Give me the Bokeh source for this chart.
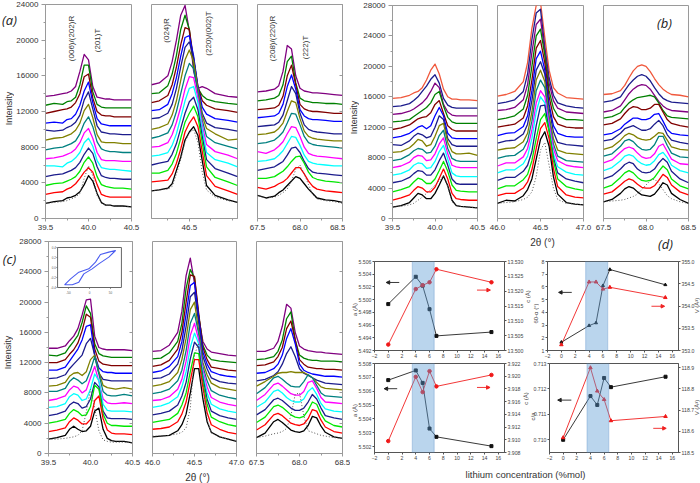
from bokeh.plotting import figure
from bokeh.embed import file_html
from bokeh.resources import INLINE
from bokeh.layouts import Row, Column
from bokeh.models import (Range1d, FixedTicker, LinearAxis, Label, BoxAnnotation, Arrow, NormalHead,
                          PrintfTickFormatter)
from bokeh.core.properties import value

# all spectrum intensities are written in hundreds of counts
UNIT = 100
COLORS_13 = ["#000000", "#ff0000", "#00e800", "#1c1c8c", "#00ffff", "#ff00ff", "#008080", "#808000",
             "#1c1c8c", "#0000ff", "#800000", "#008000", "#800080"]
COLORS_15 = COLORS_13 + ["#1c1c8c", "#f0583c"]

A1_X = [39.5, 39.6, 39.7, 39.75, 39.8, 39.85, 39.9, 39.95, 40.0, 40.05, 40.1, 40.15, 40.2, 40.25, 40.3, 40.4, 40.5]
A1 = [
 [17,19,20,23,24,26,30,38,48,42,28,18,15,15,14,14,13],
 [27,29,30,33,35,39,45,52,57,52,38,27,25,24,24,24,24],
 [37,39,40,42,44,47,53,63,69,62,47,38,36,35,34,34,33],
 [47,49,50,52,54,57,63,72,79,73,58,48,46,45,45,44,44],
 [59,59,58,62,64,68,74,85,90,81,65,57,56,55,55,54,53],
 [67,68,70,72,74,78,85,96,101,90,74,66,65,65,65,64,64],
 [77,79,80,82,84,87,95,107,114,103,86,78,76,75,75,74,74],
 [88,90,91,93,95,99,107,121,128,113,94,86,85,85,85,84,84],
 [99,98,99,102,104,108,116,133,142,123,104,97,96,95,95,94,94],
 [107,108,107,111,112,117,127,143,153,130,112,106,105,104,104,104,104],
 [118,120,122,123,125,130,140,159,162,135,120,116,115,115,114,114,114],
 [127,129,128,131,132,136,150,172,172,142,128,125,124,124,124,124,124],
 [137,138,140,141,143,148,165,184,178,148,136,135,134,134,133,133,133],
]
A1_DOT = [17,18,19,20,22,24,28,45,59,48,26,17,15,15,14,14,13]

A2_X = [46.06, 46.15, 46.25, 46.3, 46.35, 46.4, 46.45, 46.5, 46.55, 46.6, 46.65, 46.7, 46.8, 46.95, 47.06]
A2 = [
 [31,32,34,39,54,69,88,97,103,93,65,37,26,21,18],
 [41,42,43,50,62,78,97,107,114,103,75,48,36,31,27],
 [51,51,54,61,73,90,108,118,126,114,85,58,46,41,37],
 [60,62,64,72,84,101,118,131,136,122,92,66,56,51,47],
 [70,71,74,82,95,113,132,146,148,130,100,74,66,62,58],
 [80,81,85,94,108,125,145,159,158,135,105,83,75,71,67],
 [90,92,96,105,120,140,160,174,168,140,110,92,85,81,78],
 [100,102,106,116,132,155,178,189,176,145,115,101,95,88,89],
 [112,113,118,128,146,170,192,198,180,145,118,107,102,100,98],
 [121,122,128,140,158,182,203,205,182,148,125,117,112,110,108],
 [130,132,138,150,170,195,214,212,178,148,132,127,123,121,119],
 [140,141,149,162,183,212,228,212,172,146,138,134,131,129,128],
 [150,152,160,176,200,228,239,210,165,146,148,146,140,137,136],
]
A2_DOT = [31,32,33,36,50,66,86,96,100,85,52,32,24,20,18]

A3_X = [67.5, 67.6, 67.7, 67.75, 67.8, 67.85, 67.9, 67.95, 68.0, 68.05, 68.1, 68.15, 68.2, 68.3, 68.4, 68.5]
A3 = [
 [26,23,25,29,32,37,42,47,45,39,33,28,23,21,20,18],
 [35,33,36,39,41,45,51,57,57,50,42,36,33,31,30,29],
 [45,45,47,50,53,58,64,69,70,62,52,46,44,42,41,40],
 [54,56,58,61,64,71,79,80,74,64,56,52,51,50,49,48],
 [64,65,67,71,76,84,92,91,82,71,64,62,61,60,59,59],
 [75,73,77,81,86,95,103,102,92,80,73,71,70,69,68,67],
 [84,85,88,92,97,107,118,117,105,92,85,83,82,81,80,79],
 [94,95,97,101,107,120,132,130,112,98,92,90,89,88,87,87],
 [103,104,105,108,116,132,148,140,118,105,100,98,97,96,95,95],
 [113,114,115,118,128,148,161,145,122,115,112,111,111,110,109,109],
 [122,123,124,127,137,160,172,150,128,123,121,120,120,119,118,118],
 [132,133,135,138,150,176,182,152,135,132,131,130,130,129,129,128],
 [142,143,145,149,165,194,190,160,146,143,142,141,141,140,139,138],
]
A3_DOT = [26,23,24,26,29,33,42,55,60,50,38,27,22,20,19,17]

B1_X = [39.5, 39.6, 39.7, 39.75, 39.8, 39.85, 39.9, 39.95, 40.0, 40.05, 40.1, 40.15, 40.2, 40.25, 40.3, 40.4, 40.5]
B1 = [
 [15,17,21,27,33,31,26,26,33,44,56,43,24,17,16,15,14],
 [24,27,31,37,42,40,35,35,41,53,65,52,33,26,25,24,24],
 [35,38,42,48,53,51,46,46,52,63,75,62,44,37,36,35,35],
 [47,49,54,59,63,62,57,57,64,76,86,70,52,46,45,45,45],
 [57,59,64,70,73,72,66,67,75,88,96,78,60,56,55,55,55],
 [67,69,74,80,83,82,76,77,85,98,106,85,70,68,67,67,67],
 [76,78,84,89,92,91,86,87,95,109,116,92,79,76,75,75,75],
 [87,88,93,98,104,102,95,97,108,122,125,100,88,85,85,86,83],
 [97,96,102,108,112,110,106,108,120,135,130,105,97,95,95,95,95],
 [106,108,112,116,120,122,118,122,135,146,135,112,106,105,105,105,105],
 [117,119,123,127,131,133,134,139,150,155,138,122,117,115,115,115,115],
 [127,128,130,134,138,142,146,152,163,167,148,133,127,125,125,125,125],
 [137,138,141,144,148,152,158,167,178,172,150,140,136,135,135,135,135],
 [147,148,151,155,160,167,174,183,189,178,158,149,146,145,145,145,145],
 [158,159,162,165,167,172,182,195,203,190,170,160,157,157,156,156,155],
]
B1_DOT = [15,16,18,20,24,28,33,38,44,50,56,42,22,17,16,15,14]

B2_X = [46.0, 46.1, 46.2, 46.3, 46.35, 46.4, 46.45, 46.5, 46.55, 46.6, 46.65, 46.7, 46.8, 46.9, 47.0]
B2 = [
 [20,24,23,30,38,52,78,104,114,95,55,32,21,19,18],
 [30,33,33,40,48,64,92,118,126,105,66,42,31,28,27],
 [39,43,43,51,58,76,105,130,138,115,76,52,42,39,37],
 [50,54,54,62,70,88,122,148,149,115,80,60,52,49,47],
 [60,64,64,72,82,105,140,160,152,118,85,68,61,58,57],
 [69,73,73,81,92,116,152,168,160,125,92,76,70,68,67],
 [79,82,83,91,102,128,168,182,172,130,98,82,76,75,74],
 [90,92,93,101,112,140,182,195,180,135,105,90,86,85,84],
 [99,102,103,111,124,155,195,206,190,145,114,100,97,96,95],
 [109,112,113,121,135,168,210,220,195,150,122,112,108,107,107],
 [120,122,124,132,148,182,224,234,205,160,134,124,120,119,119],
 [130,132,135,144,162,200,240,249,215,168,145,135,130,130,129],
 [142,143,146,156,176,218,255,262,220,178,155,145,140,139,138],
 [151,153,156,167,190,235,270,275,225,185,162,152,148,146,145],
 [161,163,167,180,205,250,280,284,238,195,172,165,159,158,157],
]
B2_DOT = [20,21,22,25,28,35,55,90,100,70,40,25,20,19,18]

B3_X = [67.5, 67.6, 67.7, 67.75, 67.8, 67.85, 67.9, 67.95, 68.0, 68.05, 68.1, 68.15, 68.2, 68.25, 68.3, 68.4, 68.5]
B3 = [
 [22,25,33,39,42,40,35,31,30,29,32,39,47,44,33,25,20],
 [32,35,44,49,52,50,45,41,40,40,43,50,58,54,44,35,31],
 [40,44,54,60,63,60,54,50,49,50,54,62,69,64,52,43,39],
 [52,56,65,71,74,72,65,61,60,61,65,73,79,74,62,52,47],
 [63,67,76,82,84,82,76,72,70,71,76,84,87,80,70,63,60],
 [73,77,87,92,94,92,86,81,79,80,85,95,98,88,78,72,71],
 [82,85,95,102,104,101,95,91,90,91,97,108,108,96,86,81,80],
 [91,94,103,109,112,110,106,104,103,104,108,113,112,103,94,91,90],
 [102,104,112,118,120,122,119,116,116,118,124,129,122,110,103,100,98],
 [110,112,118,124,128,132,132,130,130,132,137,138,128,117,112,110,109],
 [123,125,131,138,144,147,146,143,143,145,150,150,140,130,125,122,120],
 [132,134,139,146,152,156,159,160,161,162,160,152,142,135,133,132,131],
 [140,142,148,156,164,170,174,176,175,170,162,154,148,144,142,141,140],
 [153,155,160,168,176,182,187,189,187,181,172,164,158,155,153,152,151],
 [163,164,168,175,185,194,200,202,200,193,184,176,170,166,163,162,160],
]
B3_DOT = [22,23,24,25,27,29,32,38,44,50,52,46,38,30,26,22,20]

C1_X = [39.5, 39.6, 39.7, 39.75, 39.8, 39.85, 39.9, 39.95, 40.0, 40.05, 40.1, 40.15, 40.2, 40.25, 40.3, 40.4, 40.5]
C1 = [
 [19,21,24,32,36,32,29,30,36,56,60,32,20,17,16,16,14],
 [29,31,34,42,47,44,39,39,45,70,76,46,31,27,26,26,25],
 [40,42,45,53,58,55,50,51,62,90,85,52,40,37,37,36,36],
 [50,52,56,64,68,66,60,62,72,94,88,56,47,46,46,46,45],
 [61,62,66,75,79,77,70,72,85,105,96,65,57,56,56,56,55],
 [70,72,76,84,89,87,80,84,100,115,95,72,67,66,66,67,66],
 [82,82,86,95,100,97,92,96,110,128,105,82,77,76,76,78,76],
 [89,90,94,102,106,107,103,108,124,130,108,90,87,86,85,87,85],
 [99,100,104,112,118,124,130,145,152,130,106,98,97,96,96,96,96],
 [110,110,114,122,130,138,150,168,170,130,113,108,107,107,106,106,106],
 [120,120,124,131,137,146,162,184,180,138,122,118,117,116,116,116,116],
 [130,129,133,141,148,156,173,195,185,145,132,129,128,127,127,127,127],
 [139,139,142,149,155,165,183,203,204,155,140,138,137,137,137,137,136],
]
C1_DOT = [19,19,20,21,22,24,30,55,85,60,30,18,16,15,15,15,14]

C2_X = [46.0, 46.1, 46.2, 46.3, 46.35, 46.4, 46.45, 46.5, 46.55, 46.6, 46.65, 46.7, 46.8, 46.9, 47.0]
C2 = [
 [22,23,24,30,38,52,80,112,112,72,42,28,22,19,16],
 [32,33,35,42,52,68,96,124,124,88,54,38,32,28,26],
 [41,43,45,53,64,80,108,133,132,95,65,48,42,38,36],
 [51,53,56,64,76,94,125,147,140,100,72,56,50,47,45],
 [61,63,67,75,88,108,140,159,145,105,80,65,59,56,54],
 [70,71,75,85,98,122,156,172,150,110,88,74,68,65,63],
 [79,81,85,96,110,136,172,185,158,115,96,83,77,74,72],
 [89,91,95,107,124,152,190,200,162,120,104,93,87,85,83],
 [99,100,105,118,136,168,207,213,172,128,112,100,95,93,92],
 [107,109,115,128,148,184,222,226,180,134,118,108,104,102,101],
 [115,117,123,138,160,200,236,234,185,140,124,114,112,110,109],
 [125,126,133,148,172,218,243,232,182,143,130,124,122,121,120],
 [135,136,143,160,188,235,258,225,180,148,138,134,132,130,129],
]
C2_DOT = [23,23,24,26,28,34,60,130,146,90,45,27,22,19,17]

C3_X = [67.5, 67.6, 67.7, 67.75, 67.8, 67.85, 67.9, 67.95, 68.0, 68.05, 68.1, 68.15, 68.2, 68.25, 68.3, 68.4, 68.5]
C3 = [
 [21,27,42,45,41,36,31,29,28,30,37,49,47,36,28,22,20],
 [31,38,51,53,50,45,40,38,37,39,46,58,56,44,35,29,27],
 [41,48,62,64,61,56,51,48,47,49,57,68,65,52,43,37,35],
 [51,58,71,73,70,65,60,57,57,60,68,78,72,60,50,47,45],
 [61,68,82,84,80,74,70,68,68,72,82,87,78,66,59,56,55],
 [70,78,91,93,89,84,79,77,77,82,94,96,86,74,68,67,66],
 [79,87,100,102,98,93,89,88,88,95,104,100,90,80,76,75,74],
 [89,95,102,106,107,107,108,107,107,107,104,100,94,88,86,85,84],
 [96,98,103,108,118,132,141,128,112,106,103,100,97,95,93,92,91],
 [106,107,112,118,130,152,165,145,118,110,107,105,104,103,102,102,101],
 [116,117,121,128,140,165,175,150,124,118,114,113,112,112,111,111,110],
 [124,125,128,135,150,178,187,150,130,126,124,123,123,122,122,122,121],
 [135,135,139,148,168,197,192,160,142,138,136,135,134,134,133,132,131],
]
C3_DOT = [21,23,26,27,29,33,50,78,80,50,30,28,26,24,23,21,20]

# hysteresis loop of the inset
LOOP_X = [-59.5,-45,-25.4,-1.6,14.3,26,46,62,46,22,6.3,-13.5,-25.4,-41,-59.5]
LOOP_Y = [-.346,-.227,-.093,-.027,.107,.26,.307,.34,.207,.073,-.027,-.127,-.293,-.346,-.346]

# lattice parameters against lithium concentration
LI = [0, 4, 5, 6, 7, 15]
D1_A = [5.4993, 5.5036, 5.5022, 5.4985, 5.4943, 5.4949]
D1_C = [13.502, 13.5207, 13.522, 13.523, 13.5274, 13.523]
D2_D = [1.65, 2.96, 3.17, 6.1, 7.37, 6.17]
D2_V = [353.13, 354.54, 354.54, 354.38, 354.42, 354.19]
D3_A = [5.5068, 5.5075, 5.5066, 5.5033, 5.5027, 5.50203]
D3_C = [3.9098, 3.9199, 3.9175, 3.9208, 3.9184, 3.9202]
D4_R = [0.7100, 0.71172, 0.71137, 0.71243, 0.71207, 0.71248]
D4_V = [118.57, 118.9, 118.79, 118.75, 118.65, 118.67]

FONT = "Liberation Sans"
GRAY = "#9a9a9a"
TXT = "#333333"
TOTAL = 483


def spectrum(w, h, left, right, top, bottom, xr, ymax, xticks, xminor, curves, xs, colors, dots, yticks=False,
             inner=False):
    p = figure(width=w, height=h, x_range=Range1d(*xr), y_range=Range1d(0, ymax), toolbar_location=None,
               output_backend="svg", min_border_left=left, min_border_right=right, min_border_top=top,
               min_border_bottom=bottom)
    p.grid.visible = False
    p.outline_line_color = GRAY
    p.background_fill_color = "white"
    ax = p.xaxis[0]
    ax.ticker = FixedTicker(ticks=xticks, minor_ticks=xminor)
    ax.formatter = PrintfTickFormatter(format="%.1f")
    ax.major_label_text_font = FONT
    ax.major_label_text_font_size = "8px"
    ax.major_label_text_color = TXT
    ax.major_label_standoff = 3
    ax.axis_line_color = GRAY
    ax.major_tick_line_color = GRAY
    ax.minor_tick_line_color = GRAY
    ax.major_tick_in = 0
    ax.major_tick_out = 3
    ax.minor_tick_in = 0
    ax.minor_tick_out = 2
    ay = p.yaxis[0]
    if yticks:
        ay.ticker = FixedTicker(ticks=list(range(0, ymax + 1, 4000)), minor_ticks=list(range(0, ymax + 1, 2000)))
        ay.major_label_text_font = FONT
        ay.major_label_text_font_size = "8px"
        ay.major_label_text_color = TXT
        ay.major_label_standoff = 3
        ay.axis_line_color = GRAY
        ay.major_tick_line_color = GRAY
        ay.minor_tick_line_color = GRAY
        ay.major_tick_in = 0
        ay.major_tick_out = 4
        ay.minor_tick_in = 0
        ay.minor_tick_out = 2
    else:
        ay.visible = False
    if inner:
        ticks = list(range(0, ymax + 1, 4000))
        r = LinearAxis(ticker=FixedTicker(ticks=ticks, minor_ticks=[]),
                       major_label_overrides={t: "" for t in ticks}, major_tick_in=3, major_tick_out=0,
                       major_label_standoff=0, axis_line_color=GRAY, major_tick_line_color=GRAY)
        p.add_layout(r, "right")
    for ys, c in reversed(list(zip(curves, colors))):
        assert len(ys) == len(xs), (len(ys), len(xs))
        p.line(xs, [v * UNIT for v in ys], line_color=c, line_width=1.3, line_join="round")
    assert len(dots) == len(xs)
    p.line(xs, [v * UNIT for v in dots], line_color="#555555", line_width=1, line_dash="1 2")
    return p


def note(p, x, y, text, size="8px", angle=0.0, style="normal", font=FONT, color=TXT):
    p.add_layout(Label(x=x, y=y, text=text, text_font=font, text_font_size=size, text_color=color,
                       text_font_style=style, angle=angle, angle_units="deg", text_align="center",
                       text_baseline="middle"))


def tag(text, cx, cy, flow, w=24, h=22, size="13px", style="italic", font="Open Sans", color="#222222", angle=0.0):
    # a small transparent figure laid over the panels, taking no room in its column
    top = int(round(cy - h / 2))
    p = figure(width=w, height=h, x_range=Range1d(0, w), y_range=Range1d(0, h), toolbar_location=None,
               output_backend="svg", min_border=0, x_axis_type=None, y_axis_type=None,
               background_fill_alpha=0, border_fill_alpha=0, outline_line_color=None,
               margin=(top - TOTAL, 0, TOTAL - top - h, cx - flow - w // 2))
    p.grid.visible = False
    note(p, w / 2, h / 2, text, size=size, style=style, font=font, color=color, angle=angle)
    return p


def side(text, cx, cy, flow, size="6px", length=36):
    return tag(text, cx, cy, flow, w=8, h=length, size=size, style="normal", font=FONT, color="#444444", angle=90)


a1 = spectrum(141, 234, 45, 10, 4, 16, (39.5, 40.5), 24000, [39.5, 40.0, 40.5], [39.75, 40.25], A1, A1_X, COLORS_13,
              A1_DOT, yticks=True)
a2 = spectrum(105, 234, 10, 9, 4, 16, (46.06, 47.06), 24000, [46.5], [46.25, 46.75, 47.0], A2, A2_X, COLORS_13, A2_DOT)
a3 = spectrum(99, 234, 11, 3, 4, 16, (67.5, 68.5), 24000, [67.5, 68.0, 68.5], [67.75, 68.25], A3, A3_X, COLORS_13,
              A3_DOT, inner=True)
a3.margin = (0, 5, 0, 0)

c1 = spectrum(141, 249, 48, 9, 7, 30, (39.5, 40.5), 28000, [39.5, 40.0, 40.5], [39.75, 40.25], C1, C1_X, COLORS_13,
              C1_DOT, yticks=True, inner=True)
c2 = spectrum(105, 249, 11, 10, 7, 30, (46.0, 47.0), 28000, [46.0, 46.5, 47.0], [46.25, 46.75], C2, C2_X, COLORS_13,
              C2_DOT)
c3 = spectrum(104, 249, 10, 8, 7, 30, (67.5, 68.5), 28000, [67.5, 68.0, 68.5], [67.75, 68.25], C3, C3_X, COLORS_13,
              C3_DOT, inner=True)

b1 = spectrum(137, 250, 42, 10, 5, 32, (39.5, 40.5), 28000, [39.5, 40.0, 40.5], [39.75, 40.25], B1, B1_X, COLORS_15,
              B1_DOT, yticks=True)
b2 = spectrum(106, 250, 10, 10, 5, 32, (46.0, 47.0), 28000, [46.0, 46.5, 47.0], [46.25, 46.75], B2, B2_X, COLORS_15,
              B2_DOT)
b3 = spectrum(107, 250, 10, 12, 5, 32, (67.5, 68.5), 28000, [67.5, 68.0, 68.5], [67.75, 68.25], B3, B3_X, COLORS_15,
              B3_DOT)

# peak labels
note(a1, 39.80, 20187, "(006)/(202)R", angle=90)
note(a1, 40.10, 19963, "(201)T", angle=90)
note(a2, 46.23, 21084, "(024)R", angle=90)
note(a2, 46.72, 20748, "(220)/(002)T", angle=90)
note(a3, 67.68, 20187, "(208)/(220)R", angle=90)
note(a3, 68.06, 19178, "(222)T", angle=90)

# inset of panel c, drawn on ranges of its own
ix_per_px, iy_per_px = 50 / 21, 0.02
c1.extra_x_ranges["ix"] = Range1d(-(89 - 48) * ix_per_px, (132 - 89) * ix_per_px)
c1.extra_y_ranges["iy"] = Range1d(0.4 - (453 - 247) * iy_per_px, 0.4 + (247 - 241) * iy_per_px)
c1.quad(left=[-76], right=[76], bottom=[-0.4], top=[0.4], fill_color="white", line_color="#666666", line_width=1,
        x_range_name="ix", y_range_name="iy")
c1.line(LOOP_X, LOOP_Y, line_color="#4a5cf0", line_width=1.1, x_range_name="ix", y_range_name="iy")
INSET_XT = [-50, 0, 50]
INSET_YT = [-0.4, -0.2, 0.0, 0.2, 0.4]
c1.segment(INSET_XT, [-0.4] * 3, INSET_XT, [-0.43] * 3, line_color="#666666", line_width=0.7, x_range_name="ix",
           y_range_name="iy")
c1.segment([-76] * 5, INSET_YT, [-79] * 5, INSET_YT, line_color="#666666", line_width=0.7, x_range_name="ix",
           y_range_name="iy")
c1.text(INSET_XT, [-0.5] * 3, text=[str(v) for v in INSET_XT], text_font=value(FONT), text_font_size="3px",
        text_color="#555555", text_align="center", text_baseline="middle", x_range_name="ix", y_range_name="iy")
c1.text([-80] * 5, INSET_YT, text=[f"{v:.1f}" for v in INSET_YT], text_font=value(FONT), text_font_size="3px",
        text_color="#555555", text_align="right", text_baseline="middle", x_range_name="ix", y_range_name="iy")


def lattice(w, h, left, right, top, bottom, lr, rr, lt, rt, lfmt, rfmt, ly, ry, lmark, rmark, box, arrows):
    p = figure(width=w, height=h, x_range=Range1d(-2, 16.9), y_range=Range1d(*lr), toolbar_location=None,
               output_backend="svg", min_border_left=left, min_border_right=right, min_border_top=top,
               min_border_bottom=bottom)
    p.grid.visible = False
    p.outline_line_color = "#555555"
    p.extra_y_ranges["r"] = Range1d(*rr)
    right_axis = LinearAxis(y_range_name="r")
    p.add_layout(right_axis, "right")
    for ax, ticks, fmt in ((p.yaxis[0], lt, lfmt), (right_axis, rt, rfmt)):
        ax.ticker = FixedTicker(ticks=ticks, minor_ticks=[])
        ax.formatter = PrintfTickFormatter(format=fmt)
    xa = p.xaxis[0]
    xa.ticker = FixedTicker(ticks=[-2, 0, 2, 4, 6, 8, 10, 12, 14, 16], minor_ticks=[])
    for ax in (xa, p.yaxis[0], right_axis):
        ax.major_label_text_font = FONT
        ax.major_label_text_font_size = "5.2px"
        ax.major_label_text_color = "#444444"
        ax.major_label_standoff = 1
        ax.major_tick_in = 0
        ax.major_tick_out = 2
        ax.axis_line_color = "#555555"
        ax.major_tick_line_color = "#555555"
    p.line(LI, ly, line_color="#222222", line_width=0.9)
    p.line(LI, ry, line_color="#f02020", line_width=0.9, y_range_name="r")
    p.scatter(LI, ly, marker=lmark, size=3, color="#111111")
    p.scatter(LI, ry, marker=rmark, size=3.5, color="#f01818", y_range_name="r")
    for xs, xe, y, col in arrows:
        p.add_layout(Arrow(x_start=xs, x_end=xe, y_start=y, y_end=y, line_color=col, line_width=0.9,
                           end=NormalHead(size=3.5, fill_color=col, line_color=col)))
    p.add_layout(BoxAnnotation(left=3.5, right=6.68, bottom=box[0], top=box[1], fill_color="#5b9bd5", fill_alpha=0.42,
                               line_color="#5a8fc6", line_width=1.3))
    return p


d1 = lattice(180, 110, 24, 26, 11, 10, (5.492, 5.506), (13.5, 13.53),
             [5.492 + 0.002 * i for i in range(8)], [13.5 + 0.005 * i for i in range(7)], "%.3f", "%.3f",
             D1_A, D1_C, "square", "circle", (5.49132, 5.50642),
             [(1.6, -0.3, 5.5027, "#222222"), (12.9, 14.85, 5.5015, "#f02020")])
d2 = lattice(170, 110, 17, 22, 11, 10, (1, 8), (353, 355),
             [1, 2, 3, 4, 5, 6, 7, 8], [353 + 0.5 * i for i in range(5)], "%d", "%.1f",
             D2_D, D2_V, "triangle", "triangle", (0.66, 8.21),
             [(1.5, -0.4, 5.57, "#222222"), (13.0, 14.9, 4.48, "#f02020")])
d3 = lattice(180, 102, 24, 26, 3, 10, (5.50157, 5.508), (3.908, 3.922),
             [5.502 + 0.001 * i for i in range(7)], [3.908 + 0.002 * i for i in range(8)], "%.3f", "%.3f",
             D3_A, D3_C, "square", "circle", (5.50138, 5.50814),
             [(1.3, -0.6, 5.50618, "#222222"), (12.9, 14.8, 5.50627, "#f02020")])
d4 = lattice(170, 102, 17, 22, 3, 10, (0.7095, 0.713), (118.5, 118.92),
             [0.710, 0.711, 0.712, 0.713], [118.5 + 0.1 * i for i in range(5)], "%.3f", "%.1f",
             D4_R, D4_V, "square", "triangle", (0.7094, 0.71305),
             [(1.2, -0.8, 0.71156, "#222222"), (13.2, 15.1, 0.71045, "#f02020")])

caption = figure(width=350, height=21, x_range=Range1d(0, 350), y_range=Range1d(0, 21), toolbar_location=None,
                 output_backend="svg", min_border=0, x_axis_type=None, y_axis_type=None)
caption.grid.visible = False
caption.outline_line_color = None
note(caption, 175, 9, "lithium concentration (%mol)", size="9.5px")

left_tags = [
    tag("(a)", 9, 19, 0), tag("(c)", 9, 258, 0),
    tag("Intensity", 8, 108, 0, w=12, h=46, size="9px", style="normal", font=FONT, color=TXT, angle=90),
    tag("Intensity", 7, 352, 0, w=12, h=46, size="9px", style="normal", font=FONT, color=TXT, angle=90),
    tag("2θ (°)", 197, 477, 0, w=40, h=12, size="10px", style="normal", font=FONT, color=TXT),
]
right_tags = [
    tag("(b)", 664, 22, 350), tag("(d)", 665, 243, 350),
    tag("Intensity", 353, 117, 350, w=12, h=46, size="9px", style="normal", font=FONT, color=TXT, angle=90),
    tag("2θ (°)", 542, 242, 350, w=40, h=12, size="10px", style="normal", font=FONT, color=TXT),
    side("a (Å)", 354, 309, 350), side("c (Å)", 527, 296, 350),
    side("a (Å)", 354, 410, 350), side("c (Å)", 525, 398, 350),
    side("60-α (°)", 535, 313, 350), side("V (Å³)", 696, 305, 350),
    side("c/a", 532, 416, 350), side("V (Å³)", 696, 407, 350),
]
left = Column(children=[Row(children=[a1, a2, a3]), Row(children=[c1, c2, c3])] + left_tags, spacing=0)
right = Column(children=[Row(children=[b1, b2, b3]), Row(children=[d1, d2]), Row(children=[d3, d4]), caption] + right_tags,
               spacing=0)
root = Row(children=[left, right], spacing=0)

open("out.html", "w").write(file_html(root, INLINE))
